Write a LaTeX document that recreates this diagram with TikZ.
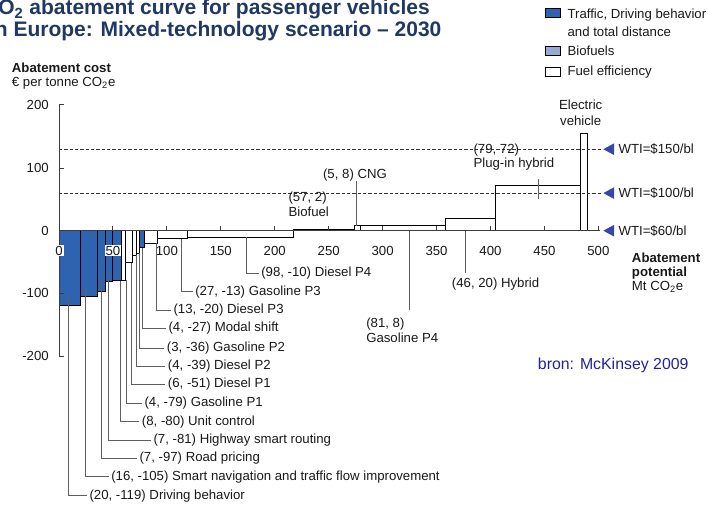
\documentclass[tikz,border=0pt]{standalone}
\usepackage{fontspec}
\setmainfont{Liberation Sans}
\definecolor{trafficblue}{RGB}{46,99,178}
\definecolor{biofuelblue}{RGB}{148,169,214}
\definecolor{titlenavy}{RGB}{31,56,100}
\definecolor{wtiblue}{RGB}{55,70,170}
\definecolor{sourceblue}{RGB}{35,35,150}
\definecolor{leadergray}{RGB}{95,95,95}
\definecolor{axisgray}{RGB}{60,60,60}
\begin{document}
\begin{tikzpicture}[x=0.75pt,y=-0.75pt,
  every node/.style={font=\fontsize{9.9}{11.5}\selectfont, inner sep=0pt, text=black!90},
  lbl/.style={anchor=west, inner xsep=1.8pt, inner ysep=1pt},
  leader/.style={draw=leadergray, line width=0.5pt},
  bar/.style={draw=black, line width=0.7pt},
  axisline/.style={draw=axisgray, line width=0.75pt},
  wtiline/.style={draw=black!80, line width=0.6pt, dash pattern=on 2.4pt off 1.6pt},
  title/.style={font=\fontsize{15.75}{18}\selectfont\bfseries, text=titlenavy},
  legbox/.style={draw=black, line width=0.6pt, minimum width=11.25pt, minimum height=6.4pt},
  ticklbl/.style={fill=white, inner xsep=0.8pt, inner ysep=0.8pt}]
\useasboundingbox (0,0) rectangle (709,506);

% title
\node[title, anchor=base east] (t1) at (430,15) {CO\textsubscript{2} abatement curve for passenger vehicles};
\node[title, anchor=base east] (t2) at (441.7,36.5) {in Europe: Mixed-technology scenario – 2030};

% legend
\node[legbox, fill=trafficblue] (k1) at (552.5,12.9) {};
\node[legbox, fill=biofuelblue] (k2) at (552.5,51) {};
\node[legbox, fill=white] (k3) at (552.5,72) {};
\node[anchor=west, align=left] (k1t) at (567.3,22.3) {Traffic, Driving behavior\\[2pt]and total distance};
\node[anchor=west] (k2t) at (567.3,51) {Biofuels};
\node[anchor=west] (k3t) at (567.3,72) {Fuel efficiency};

% axis titles
\node[anchor=west, align=left, font=\fontsize{9.9}{10.5}\selectfont] (ytitle) at (11.7,76.3) {\textbf{Abatement cost}\\€ per tonne CO\textsubscript{2}e};
\node[anchor=west, align=left, font=\fontsize{9.9}{10.7}\selectfont] (xtitle) at (631.7,272.5) {\textbf{Abatement}\\\textbf{potential}\\Mt CO\textsubscript{2}e};

% bars: (start, end, cost) in Mt and EUR per tonne
\begin{scope}[shift={(59,230.7)}, x=0.80903pt, y=0.47025pt]
  \foreach \a/\b/\h/\c in {0/20/-119/trafficblue, 20/36/-105/trafficblue, 36/43/-97/trafficblue,
      43/50/-81/trafficblue, 50/58/-80/trafficblue, 58/62/-79/white, 62/68/-51/white,
      68/72/-39/white, 72/75/-36/white, 75/79/-27/trafficblue, 79/91/-20/white,
      91/119/-13/white, 119/217/-10/white, 217/274/2/biofuelblue, 274/279/8/white,
      279/358.5/8/white, 358.5/404.5/20/white, 404.5/483.5/72/white, 483.5/489.5/155/white}
    \filldraw[bar, fill=\c] (\a,0) rectangle (\b,\h);
\end{scope}

% oil price lines
\draw[wtiline] (59,149.2) -- (601,149.2);
\draw[wtiline] (59,193.1) -- (601,193.1);
\foreach \y/\t [count=\i] in {149.2/150, 193.1/100, 230.7/60} {
  \fill[wtiblue] (614,\y-5.8) -- (603.3,\y) -- (614,\y+5.8) -- cycle;
  \node[anchor=west] (wti\i) at (618.3,\y) {WTI=\$\t/bl};
}

% axes
\draw[axisline] (59,105) -- (59,356);
\foreach \y in {105,168.35,230.7,293.05,356} \draw[axisline] (59,\y) -- (63.5,\y);
\draw[axisline] (59,230.7) -- (600,230.7);
\foreach \k in {1,...,10} \draw[axisline] (59+53.935*\k,230.7) -- (59+53.935*\k,226.2);
\foreach \v/\y in {200/105,100/168.35,0/230.7,-100/293.05,-200/356}
  \node[anchor=east] (yl\v) at (49,\y) {\v};
\foreach \k in {0,...,10} {
  \pgfmathtruncatemacro\lab{50*\k}
  \node[ticklbl] (xl\k) at (59+53.935*\k,250.7) {\lab};
}

% leader labels below the axis
\foreach \sx/\sy/\ly/\tx/\txt [count=\i] in {
    68.8/294/495.7/89.3/{(20, -119) Driving behavior},
    85.5/288/476.7/111/{(16, -105) Smart navigation and traffic flow improvement},
    101/277/458.3/139.3/{(7, -97) Road pricing},
    108.7/272/440/153.3/{(7, -81) Highway smart routing},
    120/281.3/421.7/141.7/{(8, -80) Unit control},
    126/280.3/403.3/144.3/{(4, -79) Gasoline P1},
    131/263/384/167.7/{(6, -51) Diesel P1},
    136.3/255/366/167.7/{(4, -39) Diesel P2},
    139/253.3/348.3/166.7/{(3, -36) Gasoline P2},
    142.5/247.6/328.3/168.3/{(4, -27) Modal shift},
    156/243.2/310/173.3/{(13, -20) Diesel P3},
    181.7/238.9/291.7/195/{(27, -13) Gasoline P3},
    246.7/237/273.3/261/{(98, -10) Diesel P4}} {
  \coordinate (s\i) at (\sx,\sy);
  \node[lbl] (l\i) at (\tx-2.4,\ly) {\txt};
  \draw[leader] (s\i) |- (l\i.west);
}

% labels above the axis
\node[anchor=west, align=left] (bio) at (288.3,204.2) {(57, 2)\\Biofuel};
\node (cng) at (355,175) {(5, 8) CNG};
\coordinate (cngbar) at (356.7,226);
\draw[leader] (cngbar) -- (cngbar |- cng.south);

\node[anchor=west, align=left] (gp4) at (366,330.5) {(81, 8)\\Gasoline P4};
\coordinate (gp4bar) at (409.3,230.7);
\draw[leader, shorten >=6pt] (gp4bar) -- (gp4bar |- gp4.north);

\node[anchor=west] (hyb) at (451.7,284.3) {(46, 20) Hybrid};
\coordinate (hybbar) at (465,230.7);
\draw[leader, shorten >=4pt] (hybbar) -- (hybbar |- hyb.north);

\node[anchor=west, align=left] (phev) at (473.3,157) {(79, 72)\\[-1pt]Plug-in hybrid};
\coordinate (phevtop) at (538.3,179.3);
\coordinate (phevbar) at (538.3,199.3);
\draw[leader] (phevtop) -- (phevbar);

\node[align=center] (ev) at (580.7,112.9) {Electric\\vehicle};

% source
\node[anchor=west, font=\fontsize{11.9}{14}\selectfont, text=sourceblue] (src) at (537.7,365) {bron: McKinsey 2009};
\end{tikzpicture}
\end{document}
